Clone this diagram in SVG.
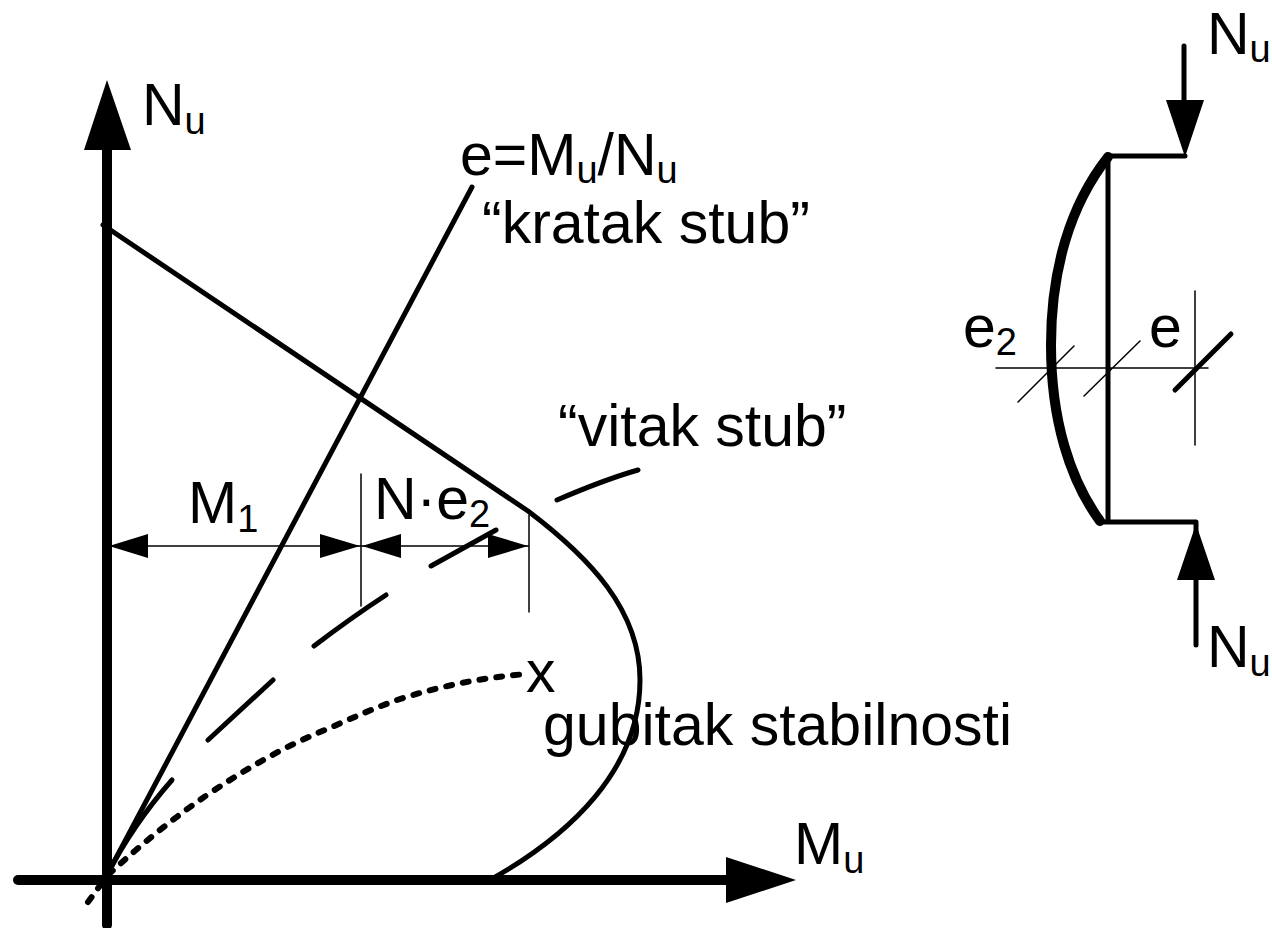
<svg xmlns="http://www.w3.org/2000/svg" width="1272" height="928" viewBox="0 0 1272 928">
<style>
text{font-family:"Liberation Sans",Arial,sans-serif;fill:#000;font-size:59px}
.sub{font-size:38px}
.l{fill:none;stroke:#000;stroke-linecap:round;stroke-linejoin:round}
.w1{stroke-width:1.5}.w5{stroke-width:5}.w6{stroke-width:6}.w9{stroke-width:10}
.a{fill:#000;stroke:none}
</style>
<rect width="1272" height="928" fill="#fff"/>
<g id="axes">
<path class="l w9" d="M107 925V150"/>
<path class="a" d="M107 80L84 150H131Z"/>
<path class="l w9" d="M18 880H730"/>
<path class="a" d="M796 880L726 857V903Z"/>
</g>
<g id="curves">
<path class="l w5" d="M103 225L528 511C590 558 640 610 640 680C640 770 570 835 490 880"/>
<path class="l w5" d="M107 875L472 187"/>
<path class="l w5" d="M107 875C125 840 150 805 172 780"/>
<path class="l w5" d="M208 740L273 680M314 646C335 630 360 612 386 595M431 566L496 530M557 500C585 488 610 478 638 470"/>
<path class="l w6" stroke-dasharray="6 11" d="M88 902L107 876C140 845 175 817 207 795C228 781 247 769 267 758C288 746 310 736 332 727C354 717 375 708 397 700C440 686 480 678 526 674"/>
</g>
<g id="dims">
<path class="l w1" d="M107 546H528M361 474V606M529 515V612"/>
<path class="a" d="M109 546L148 534V558ZM360 546L320 534V558ZM362 546L401 534V558ZM528 546L488 534V558Z"/>
</g>
<g id="column">
<path class="l w5" d="M1108 156V522M1108 156H1185M1104 522H1196"/>
<path class="l w9" d="M1108 157C1070 205 1051 270 1051 345C1051 420 1070 480 1100 521"/>
<path class="l w5" d="M1184 46V105M1196 524V645"/>
<path class="a" d="M1185 157L1166 100H1204ZM1196 524L1177 580H1215Z"/>
<path class="l w1" d="M996 368H1208M1195 291V445M1018 402L1074 346M1084 396L1140 341"/>
<path class="l w5" d="M1175 390L1231 334"/>
</g>
<g id="labels">
<text x="142" y="125">N<tspan class="sub" dy="9">u</tspan></text>
<text x="460" y="175">e=M<tspan class="sub" dy="8">u</tspan><tspan dy="-8">/N</tspan><tspan class="sub" dy="8">u</tspan></text>
<text x="482" y="243">“kratak stub”</text>
<text x="558" y="446">“vitak stub”</text>
<text x="188" y="523">M<tspan class="sub" dy="9">1</tspan></text>
<text x="374" y="519">N·e<tspan class="sub" dy="8">2</tspan></text>
<text x="526" y="692">x</text>
<text x="543" y="745">gubitak stabilnosti</text>
<text x="794" y="864">M<tspan class="sub" dy="9">u</tspan></text>
<text x="1207" y="54">N<tspan class="sub" dy="8">u</tspan></text>
<text x="963" y="347">e<tspan class="sub" dy="8">2</tspan></text>
<text x="1149" y="347">e</text>
<text x="1207" y="667">N<tspan class="sub" dy="9">u</tspan></text>
</g>
</svg>
